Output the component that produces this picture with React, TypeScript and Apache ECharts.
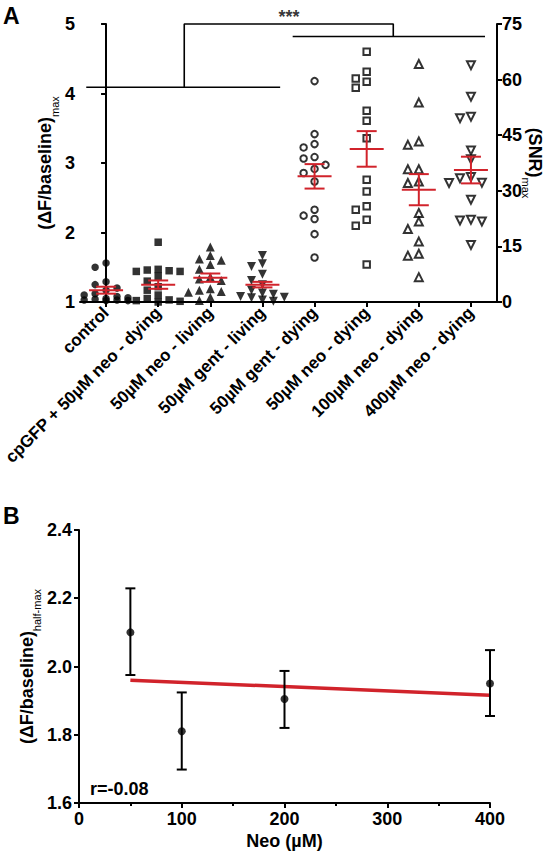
import React, { useEffect, useRef } from 'react';
import * as echarts from 'echarts';

const F = '"Liberation Sans", Arial, Helvetica, sans-serif';

// ---------- Panel A data ----------
const categories = [
  'control',
  'cpGFP + 50µM neo - dying',
  '50µM neo - living',
  '50µM gent - living',
  '50µM gent - dying',
  '50µM neo - dying',
  '100µM neo - dying',
  '400µM neo - dying',
];

// (ΔF/baseline)max, left axis
const controlVals = [1.56, 1.5, 1.29, 1.25, 1.2, 1.17, 1.12, 1.1, 1.08, 1.06, 1.05, 1.04, 1.03, 1.03, 1.02, 1.02];
const cpgfpVals = [1.86, 1.47, 1.46, 1.45, 1.44, 1.44, 1.37, 1.3, 1.22, 1.17, 1.1, 1.05, 1.03, 1.02, 1.01, 1.0];
const neoLivingVals = [1.79, 1.67, 1.62, 1.6, 1.54, 1.47, 1.36, 1.33, 1.31, 1.19, 1.17, 1.15, 1.14, 1.07, 1.02];
const gentLivingVals = [1.67, 1.55, 1.51, 1.4, 1.31, 1.25, 1.17, 1.13, 1.11, 1.08, 1.07, 1.06, 1.03, 1.01];
// (SNR)max, right axis
const gentDyingVals = [59.6, 45.3, 42.6, 41.7, 39.1, 38.7, 37.0, 35.9, 34.8, 32.5, 24.9, 23.3, 22.4, 18.3, 12.0];
const neo50DyingVals = [67.5, 62.1, 60.3, 59.4, 57.8, 51.6, 48.9, 44.2, 33.0, 29.8, 25.8, 24.9, 22.2, 20.6, 10.1];
const neo100DyingVals = [64.2, 53.8, 43.3, 42.4, 35.8, 35.8, 32.5, 32.1, 24.0, 21.7, 19.7, 16.3, 13.0, 12.5, 6.7];
const neo400DyingVals = [63.9, 55.4, 50.0, 49.6, 40.9, 38.5, 33.7, 33.4, 32.2, 32.1, 27.6, 22.2, 22.0, 21.7, 15.4];

const groupValues = [
  controlVals, cpgfpVals, neoLivingVals, gentLivingVals,
  gentDyingVals, neo50DyingVals, neo100DyingVals, neo400DyingVals,
];
const groupAxis = [0, 0, 0, 0, 1, 1, 1, 1];
const groupMeans = [1.17, 1.25, 1.35, 1.25, 33.9, 41.3, 30.3, 35.6];
const groupSems = [0.05, 0.06, 0.06, 0.04, 3.3, 4.8, 4.2, 3.6];

const leftTicks = { min: 1, max: 5, interval: 1 };
const rightTicks = { min: 0, max: 75, interval: 15 };

// significance brackets (axis units: x = category index, y = left axis)
const bracketLow = [[-0.38, 4.09], [3.34, 4.09]];
const bracketTop = [[1.5, 4.09], [1.5, 5.0], [5.51, 5.0], [5.51, 4.82]];
const bracketHigh = [[3.58, 4.82], [7.27, 4.82]];
const starPos = [[3.51, 5.1]];

// ---------- Panel B data ----------
const neoConc = [50, 100, 200, 400];
const neoMean = [2.10, 1.81, 1.905, 1.95];
const neoLow = [1.975, 1.698, 1.82, 1.855];
const neoHigh = [2.229, 1.924, 1.987, 2.048];
const fitX = [50, 400];
const fitY = [1.96, 1.916];
const bTicks = { min: 1.6, max: 2.4, interval: 0.2 };

// beeswarm-style horizontal spread, computed from the values
function swarm(values: number[], pxPerUnit: number, pxPerCat: number) {
  const step = 0.21;
  const diam = 8;
  const placed: { dx: number; v: number }[] = [];
  const order = values.map((v, i) => i).sort((a, b) => values[b] - values[a]);
  const out = new Array(values.length).fill(0);
  const ks = [0, -1, 1, -2, 2];
  for (const idx of order) {
    const v = values[idx];
    let best = 0;
    let bestD = -1;
    for (const k of ks) {
      const dx = k * step;
      const d = placed.reduce(
        (m, p) => Math.min(m, Math.hypot((p.dx - dx) * pxPerCat, (p.v - v) * pxPerUnit)),
        Infinity
      );
      if (d >= diam) { best = dx; bestD = d; break; }
      if (d > bestD) { bestD = d; best = dx; }
    }
    placed.push({ dx: best, v });
    out[idx] = best;
  }
  return out;
}

const symbols = ['circle', 'rect', 'triangle', 'triangle', 'circle', 'rect', 'triangle', 'triangle'];
const rotations = [0, 0, 0, 180, 0, 0, 0, 180];
const filled = [true, true, true, true, false, false, false, false];

export default function App() {
  const ref = useRef<HTMLDivElement>(null);
  useEffect(() => {
    if (!ref.current) return;
    const chart = echarts.init(ref.current, undefined, { renderer: 'svg' });

    const plotH = 278;
    const catW = 417 / 8;
    const pxLeft = plotH / (leftTicks.max - leftTicks.min);
    const pxRight = plotH / (rightTicks.max - rightTicks.min);

    const red = '#d1232b';
    const axisCommon = {
      axisLine: { show: true, lineStyle: { color: '#000', width: 2 } },
      axisTick: { show: true, length: 5, lineStyle: { color: '#000', width: 2 } },
      splitLine: { show: false },
    };
    const tickLabel = { color: '#000', fontSize: 18, fontWeight: 'bold' as const, fontFamily: F };

    const richName = {
      a: { fontSize: 18, fontWeight: 'bold', fontFamily: F, color: '#000', lineHeight: 24, verticalAlign: 'top' },
      s: { fontSize: 11, fontFamily: F, color: '#000', lineHeight: 24, verticalAlign: 'bottom' },
    };

    const scatterSeries: any[] = groupValues.map((vals, gi) => {
      const offs = swarm(vals, groupAxis[gi] === 0 ? pxLeft : pxRight, catW);
      return {
        type: 'scatter',
        xAxisIndex: 1,
        yAxisIndex: groupAxis[gi],
        symbol: symbols[gi],
        symbolRotate: rotations[gi],
        symbolSize: filled[gi] ? (symbols[gi] === 'triangle' ? 9 : 7.5) : (symbols[gi] === 'triangle' ? 8 : 6.5),
        itemStyle: filled[gi]
          ? { color: '#000' }
          : { color: '#fff', borderColor: '#000', borderWidth: 2 },
        data: vals.map((v, k) => [gi + offs[k], v]),
        z: 3,
      };
    });

    const errA = (axis: number) => ({
      type: 'custom',
      xAxisIndex: 1,
      yAxisIndex: axis,
      z: 6,
      data: groupMeans
        .map((m, i) => [i, m, groupSems[i], groupAxis[i]])
        .filter((d) => d[3] === axis),
      renderItem: (params: any, api: any) => {
        const x = api.value(0);
        const m = api.value(1);
        const s = api.value(2);
        const pm = api.coord([x, m]);
        const pt = api.coord([x, m + s]);
        const pb = api.coord([x, m - s]);
        const st = { stroke: red, lineWidth: 2, fill: 'none' };
        return {
          type: 'group',
          children: [
            { type: 'line', shape: { x1: pm[0] - 17, y1: pm[1], x2: pm[0] + 17, y2: pm[1] }, style: st },
            { type: 'line', shape: { x1: pt[0], y1: pt[1], x2: pb[0], y2: pb[1] }, style: st },
            { type: 'line', shape: { x1: pt[0] - 10, y1: pt[1], x2: pt[0] + 10, y2: pt[1] }, style: st },
            { type: 'line', shape: { x1: pb[0] - 10, y1: pb[1], x2: pb[0] + 10, y2: pb[1] }, style: st },
          ],
        };
      },
    });

    const bracket = (data: number[][]) => ({
      type: 'line',
      xAxisIndex: 1,
      yAxisIndex: 0,
      data,
      symbol: 'none',
      clip: false,
      silent: true,
      lineStyle: { color: '#000', width: 1.6 },
      z: 5,
    });

    const option: any = {
      animation: false,
      backgroundColor: '#fff',
      grid: [
        { left: 80, right: 50, top: 24, bottom: 551, outerBoundsMode: 'none', containLabel: false },
        { left: 79, right: 57, top: 530, bottom: 50, outerBoundsMode: 'none', containLabel: false },
      ],
      xAxis: [
        {
          type: 'category',
          gridIndex: 0,
          data: categories,
          boundaryGap: true,
          ...axisCommon,
          axisTick: { show: true, alignWithLabel: true, length: 5, lineStyle: { color: '#000', width: 2 } },
          axisLabel: { ...tickLabel, fontSize: 17, rotate: 45, margin: 8, interval: 0 },
        },
        { type: 'value', gridIndex: 0, min: -0.5, max: 7.5, show: false },
        {
          type: 'value',
          gridIndex: 1,
          min: 0,
          max: 400,
          interval: 100,
          ...axisCommon,
          minorTick: { show: true, splitNumber: 2, length: 3, lineStyle: { color: '#000', width: 2 } },
          axisLabel: { ...tickLabel, margin: 7 },
          name: 'Neo (µM)',
          nameLocation: 'middle',
          nameGap: 29,
          nameTextStyle: { ...tickLabel },
        },
      ],
      yAxis: [
        {
          type: 'value',
          gridIndex: 0,
          position: 'left',
          ...leftTicks,
          ...axisCommon,
          axisLabel: { ...tickLabel, margin: 5 },
          name: '{a|(ΔF/baseline)}{s|max}',
          nameLocation: 'middle',
          nameRotate: 90,
          nameGap: 20,
          nameMoveOverlap: false,
          nameTextStyle: { rich: richName },
        },
        {
          type: 'value',
          gridIndex: 0,
          position: 'right',
          ...rightTicks,
          ...axisCommon,
          axisLabel: { ...tickLabel, margin: 5 },
          name: '{a|(SNR)}{s|max}',
          nameLocation: 'middle',
          nameRotate: -90,
          nameGap: 23,
          nameMoveOverlap: false,
          nameTextStyle: { rich: richName },
        },
        {
          type: 'value',
          gridIndex: 1,
          ...bTicks,
          ...axisCommon,
          axisLabel: { ...tickLabel, margin: 7, formatter: (v: number) => v.toFixed(1) },
          name: '{a|(ΔF/baseline)}{s|half-max}',
          nameLocation: 'middle',
          nameRotate: 90,
          nameGap: 37,
          nameMoveOverlap: false,
          nameTextStyle: { rich: richName },
        },
      ],
      series: [
        ...scatterSeries,
        errA(0),
        errA(1),
        bracket(bracketLow),
        bracket(bracketTop),
        bracket(bracketHigh),
        {
          type: 'scatter',
          xAxisIndex: 1,
          yAxisIndex: 0,
          data: starPos,
          symbolSize: 0,
          clip: false,
          silent: true,
          label: { show: true, position: 'inside', formatter: '***', ...tickLabel, fontSize: 18 },
        },
        // Panel B
        {
          type: 'line',
          xAxisIndex: 2,
          yAxisIndex: 2,
          data: fitX.map((x, i) => [x, fitY[i]]),
          symbol: 'none',
          lineStyle: { color: red, width: 3.5 },
          z: 2,
        },
        {
          type: 'custom',
          xAxisIndex: 2,
          yAxisIndex: 2,
          z: 4,
          data: neoConc.map((c, i) => [c, neoLow[i], neoHigh[i]]),
          renderItem: (params: any, api: any) => {
            const x = api.value(0);
            const lo = api.coord([x, api.value(1)]);
            const hi = api.coord([x, api.value(2)]);
            const st = { stroke: '#000', lineWidth: 2, fill: 'none' };
            return {
              type: 'group',
              children: [
                { type: 'line', shape: { x1: lo[0], y1: lo[1], x2: hi[0], y2: hi[1] }, style: st },
                { type: 'line', shape: { x1: hi[0] - 5, y1: hi[1], x2: hi[0] + 5, y2: hi[1] }, style: st },
                { type: 'line', shape: { x1: lo[0] - 5, y1: lo[1], x2: lo[0] + 5, y2: lo[1] }, style: st },
              ],
            };
          },
        },
        {
          type: 'scatter',
          xAxisIndex: 2,
          yAxisIndex: 2,
          data: neoConc.map((c, i) => [c, neoMean[i]]),
          symbol: 'circle',
          symbolSize: 8,
          itemStyle: { color: '#000' },
          z: 5,
        },
      ],
      graphic: [
        { type: 'text', left: 3, top: 4, style: { text: 'A', font: `bold 23px ${F}`, fill: '#000' } },
        { type: 'text', left: 3, top: 504, style: { text: 'B', font: `bold 23px ${F}`, fill: '#000' } },
        { type: 'text', left: 90, top: 780, style: { text: 'r=-0.08', font: `bold 18px ${F}`, fill: '#000' } },
      ],
    };

    chart.setOption(option);
    return () => chart.dispose();
  }, []);

  return (
    <div
      ref={ref}
      style={{ position: 'fixed', left: 0, top: 0, width: 547, height: 853, background: '#fff' }}
    />
  );
}
